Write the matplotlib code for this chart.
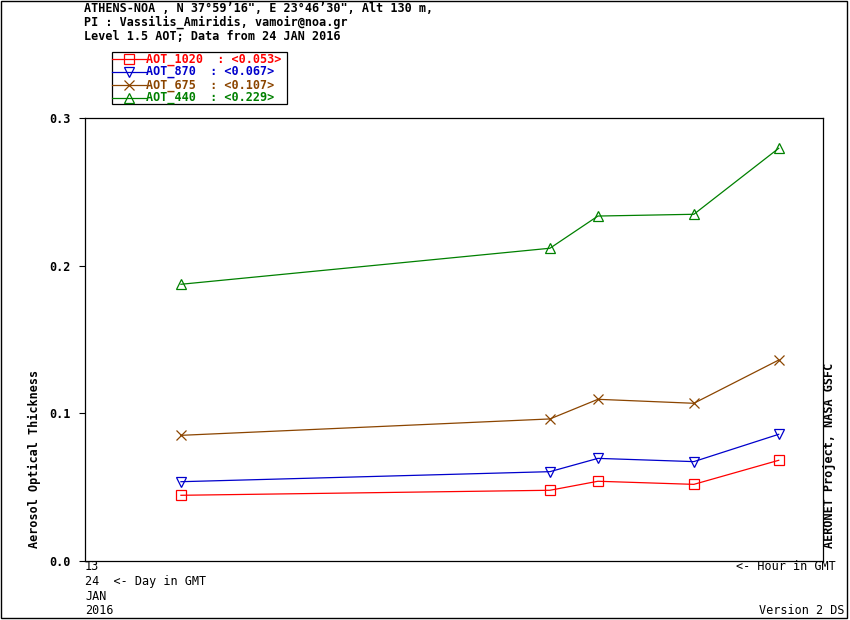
import numpy as np
import matplotlib
matplotlib.use('Agg')
import matplotlib.pyplot as plt
from matplotlib.patches import Rectangle
from matplotlib.lines import Line2D

# hour of day (GMT) of each measurement, 24 JAN 2016
hours = [13.13, 13.63, 13.695, 13.825, 13.94]

aot_1020 = [0.0445, 0.0479, 0.0540, 0.0519, 0.0682]
aot_870 = [0.0537, 0.0605, 0.0695, 0.0673, 0.0858]
aot_675 = [0.0851, 0.0962, 0.1095, 0.1068, 0.1361]
aot_440 = [0.1874, 0.2118, 0.2336, 0.2348, 0.2795]

series_names = ['AOT_1020', 'AOT_870', 'AOT_675', 'AOT_440']
series_values = [aot_1020, aot_870, aot_675, aot_440]
series_colors = ['#ff0000', '#0000cc', '#8b4500', '#008000']
series_markers = ['s', 'v', 'x', '^']

y_ticks = [0.0, 0.1, 0.2, 0.3]
y_ticklabels = ['0.0', '0.1', '0.2', '0.3']

header = ['ATHENS-NOA , N 37\u00b059\u201916", E 23\u00b046\u201930", Alt 130 m,',
          'PI : Vassilis_Amiridis, vamoir@noa.gr',
          'Level 1.5 AOT; Data from 24 JAN 2016']

W, H = 850, 620
mono = 'DejaVu Sans Mono'
fs = 8.5

fig = plt.figure(figsize=(W / 100, H / 100), dpi=100)

# main plot area, pixel box 85..823 x 118..561
ax = fig.add_axes([85 / W, (H - 561) / H, 738 / W, 443 / H])
for name, vals, col, mk in zip(series_names, series_values, series_colors, series_markers):
    ax.plot(hours, vals, color=col, lw=0.9, marker=mk, markersize=7,
            markerfacecolor='none', markeredgecolor=col, markeredgewidth=0.9)

ax.set_xlim(13, 14)
ax.set_ylim(0, 0.3)
ax.set_xticks([])
ax.set_yticks(y_ticks)
ax.set_yticklabels(y_ticklabels, family=mono, fontweight='bold', fontsize=fs)
ax.tick_params(axis='y', direction='out', length=4, width=0.8, pad=6)
for s in ax.spines.values():
    s.set_linewidth(0.9)

# overlay in pixel coordinates for texts / legend / border
ov = fig.add_axes([0, 0, 1, 1], facecolor='none')
ov.set_xlim(0, W)
ov.set_ylim(H, 0)
ov.axis('off')

ov.add_patch(Rectangle((0.5, 0.5), W - 3, H - 2.5, fill=False, lw=1, ec='black'))

for i, line in enumerate(header):
    ov.text(84, 9 + i * 13.5, line, family=mono, fontweight='bold', fontsize=fs,
            va='center', ha='left')

# legend box
ov.add_patch(Rectangle((112, 52), 175, 52, fill=False, lw=0.9, ec='black'))
for i, (name, vals, col, mk) in enumerate(zip(series_names, series_values,
                                              series_colors, series_markers)):
    yy = 59 + i * 13
    ov.add_line(Line2D([112, 146], [yy, yy], color=col, lw=0.9))
    ov.plot([129], [yy], marker=mk, markersize=7, markerfacecolor='none',
            markeredgecolor=col, markeredgewidth=0.9)
    ov.text(146, yy, f'{name}  : <{np.mean(vals):.3f}>', color=col, family=mono,
            fontweight='bold', fontsize=fs, va='center', ha='left')

# axis titles
ov.text(34, 548, 'Aerosol Optical Thickness', rotation=90, family=mono,
        fontweight='bold', fontsize=fs, ha='center', va='bottom')
ov.text(830, 548, 'AERONET Project, NASA GSFC', rotation=90, family=mono,
        fontweight='bold', fontsize=fs, ha='center', va='bottom')

# bottom labels
ov.text(85, 566, '13', family=mono, fontsize=fs, va='center', ha='left')
ov.text(836, 566, '<- Hour in GMT', family=mono, fontsize=fs, va='center', ha='right')
ov.text(85, 581, '24  <- Day in GMT', family=mono, fontsize=fs, va='center', ha='left')
ov.text(85, 596, 'JAN', family=mono, fontsize=fs, va='center', ha='left')
ov.text(85, 611, '2016', family=mono, fontsize=fs, va='center', ha='left')
ov.text(845, 611, 'Version 2 DS', family=mono, fontsize=fs, va='center', ha='right')

fig.savefig('out.png', dpi=100, facecolor='white')
